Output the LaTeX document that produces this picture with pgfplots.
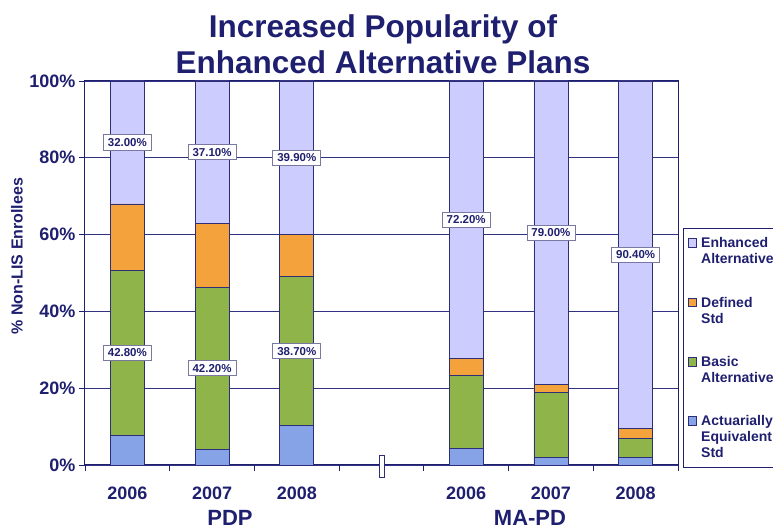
\documentclass[border=0pt]{standalone}
\usepackage{pgfplots}
\pgfplotsset{compat=1.18}
\usepackage{fontspec}
\setmainfont{Liberation Sans}
\definecolor{navy}{RGB}{31,31,112}
\definecolor{barline}{RGB}{45,45,120}
\definecolor{gridc}{RGB}{50,50,130}
\definecolor{enh}{RGB}{204,204,255}
\definecolor{defstd}{RGB}{244,162,60}
\definecolor{basic}{RGB}{142,180,74}
\definecolor{act}{RGB}{135,163,232}
\definecolor{lblbox}{RGB}{120,120,160}
\newcommand{\LegTwo}[2]{\vtop{\hbox{#1}\hbox{#2}}}
\newcommand{\LegThree}[3]{\vtop{\hbox{#1}\hbox{#2}\hbox{#3}}}
\tikzset{legtext/.style={anchor=base west, inner sep=0pt, text=navy,
    font=\bfseries\fontsize{14}{16}\selectfont},
  legbox/.style={draw=barline, line width=0.6pt}}
\begin{document}
\begin{tikzpicture}
\begin{axis}[
  at={(85pt,64pt)}, anchor=south west,
  width=593pt, height=384pt, scale only axis,
  xmin=-0.5, xmax=6.5, ymin=0, ymax=100,
  ybar stacked, bar width=34pt,
  clip=false,
  xtick={0,1,2,4,5,6},
  xticklabels={2006,2007,2008,2006,2007,2008},
  xtick style={draw=none},
  extra x ticks={-0.5,0.5,1.5,2.5,3.5,4.5,5.5,6.5},
  extra x tick labels={,,,,,,,},
  extra x tick style={xtick style={draw=navy, line width=0.8pt}},
  ytick={0,20,40,60,80,100},
  yticklabel={\pgfmathprintnumber{\tick}\%},
  ytick style={draw=navy, line width=0.8pt},
  tick align=outside, major tick length=6pt,
  xtick pos=left, ytick pos=left,
  /pgf/number format/assume math mode=true,
  ticklabel style={font=\bfseries\fontsize{18}{20}\selectfont, text=navy},
  xticklabel style={yshift=-12pt},
  axis line style={navy, line width=1pt},
  ymajorgrids, major grid style={gridc, line width=0.8pt},
  title={Increased Popularity of\\Enhanced Alternative Plans},
  title style={at={(0.5025,1)}, anchor=south, yshift=1pt, align=center,
    font=\bfseries\fontsize{31.5}{36}\selectfont, text=navy, inner sep=0pt},
  ylabel={\% Non-LIS Enrollees},
  ylabel style={at={(axis description cs:-0.1147,0.544)}, anchor=center,
    font=\bfseries\fontsize{16}{18}\selectfont, text=navy},
]
\addplot[fill=act, draw=barline, line width=0.7pt] coordinates {(0,7.8) (1,4.1) (2,10.3) (4,4.4) (5,2.0) (6,2.0)};
\addplot[fill=basic, draw=barline, line width=0.7pt] coordinates {(0,42.8) (1,42.2) (2,38.7) (4,19.0) (5,17.0) (6,5.0)};
\addplot[fill=defstd, draw=barline, line width=0.7pt] coordinates {(0,17.4) (1,16.6) (2,11.1) (4,4.4) (5,2.0) (6,2.6)};
\addplot[fill=enh, draw=barline, line width=0.7pt] coordinates {(0,32.0) (1,37.1) (2,39.9) (4,72.2) (5,79.0) (6,90.4)};
\draw[barline, line width=0.8pt, fill=white] ([xshift=-2.5pt,yshift=-12pt]axis cs:3,0) rectangle ([xshift=2.5pt,yshift=10pt]axis cs:3,0);
\node[font=\bfseries\fontsize{22}{24}\selectfont, text=navy] at (rel axis cs:0.2445,-0.137) {PDP};
\node[font=\bfseries\fontsize{22}{24}\selectfont, text=navy] at (rel axis cs:0.7504,-0.137) {MA-PD};
\end{axis}
\begin{axis}[
  at={(85pt,64pt)}, anchor=south west,
  width=593pt, height=384pt, scale only axis,
  xmin=-0.5, xmax=6.5, ymin=0, ymax=100,
  hide axis, clip=false]
\addplot[draw=none, nodes near coords, point meta=explicit symbolic,
  every node near coord/.append style={anchor=center, draw=lblbox, fill=white, text=navy,
    font=\bfseries\fontsize{11.5}{12}\selectfont, inner xsep=4.5pt, inner ysep=3.5pt, line width=0.8pt}]
  coordinates {(0,84)[32.00\%] (1,81.45)[37.10\%] (2,80.05)[39.90\%] (4,63.9)[72.20\%] (5,60.5)[79.00\%] (6,54.8)[90.40\%] (0,29.2)[42.80\%] (1,25.2)[42.20\%] (2,29.65)[38.70\%]};
% legend
\draw[navy, line width=0.8pt] (rel axis cs:1.0084,0.6172) rectangle (rel axis cs:1.2,-0.0052);
\node[legtext] at (rel axis cs:1.0388,0.5651) {\LegTwo{Enhanced}{Alternative}};
\node[legtext] at (rel axis cs:1.0388,0.4102) {\LegTwo{Defined}{Std}};
\node[legtext] at (rel axis cs:1.0388,0.2552) {\LegTwo{Basic}{Alternative}};
\node[legtext] at (rel axis cs:1.0388,0.1016) {\LegThree{Actuarially}{Equivalent}{Std}};
\filldraw[legbox, fill=enh] ([yshift=1pt]rel axis cs:1.0169,0.5651) rectangle ++(8.5pt,8.5pt);
\filldraw[legbox, fill=defstd] ([yshift=1pt]rel axis cs:1.0169,0.4102) rectangle ++(8.5pt,8.5pt);
\filldraw[legbox, fill=basic] ([yshift=1pt]rel axis cs:1.0169,0.2552) rectangle ++(8.5pt,8.5pt);
\filldraw[legbox, fill=act] ([yshift=1pt]rel axis cs:1.0169,0.1016) rectangle ++(8.5pt,8.5pt);
\end{axis}
\pgfresetboundingbox
\useasboundingbox (0,0) rectangle (773pt,529pt);
\end{tikzpicture}
\end{document}
